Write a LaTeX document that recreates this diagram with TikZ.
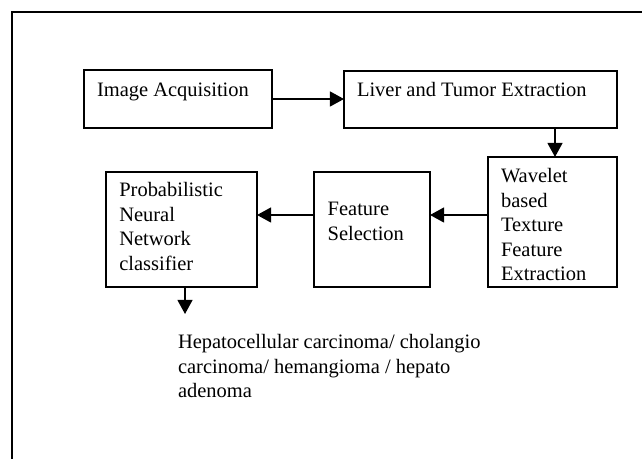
\documentclass[tikz,border=0pt]{standalone}
\usepackage{fontspec}
\setmainfont{Liberation Serif}
\usetikzlibrary{arrows.meta}

% one drawing unit = one pixel of the 642 x 459 layout
\newcommand\pxu{0.5634pt}

\tikzset{
  stagebox/.style={draw=black, line width=0.75pt, inner sep=0pt, outer sep=0pt},
  stagetext/.style={anchor=base west, inner sep=0pt, outer sep=0pt,
    font=\fontsize{11.54}{13.8}\selectfont},
  flow/.style={line width=0.85pt, -{Triangle[length=7.9pt,width=8.4pt]}},
  frameline/.style={line width=1.3pt},
}

\newcommand\lines[1]{\begin{tabular}[t]{@{}l@{}}#1\end{tabular}}

\begin{document}
\begin{tikzpicture}[x=\pxu, y=-\pxu]
  \useasboundingbox (0,0) rectangle (642,459);

  % open outer frame
  \draw[frameline] (12,459) -- (12,12) -- (642,12);

  % stage boxes
  \node[stagebox, minimum width=188*\pxu, minimum height=58*\pxu]  (b1) at (178,99) {};
  \node[stagebox, minimum width=273*\pxu, minimum height=57*\pxu]  (b2) at (480.5,99.5) {};
  \node[stagebox, minimum width=129*\pxu, minimum height=130*\pxu] (b3) at (552.5,222) {};
  \node[stagebox, minimum width=116*\pxu, minimum height=115*\pxu] (b4) at (372,229.5) {};
  \node[stagebox, minimum width=151*\pxu, minimum height=115*\pxu] (b5) at (181.5,229.5) {};

  % box labels
  \node[stagetext] (t1) at (97,96.7)   {Image Acquisition};
  \node[stagetext] (t2) at (357,96.7)  {Liver and Tumor Extraction};
  \node[stagetext] (t3) at (501,182.7) {\lines{Wavelet\\based\\Texture\\Feature\\Extraction}};
  \node[stagetext] (t4) at (327.7,216) {\lines{Feature\\Selection}};
  \node[stagetext] (t5) at (119.3,196.7) {\lines{Probabilistic\\Neural\\Network\\classifier}};

  % result classes
  \node[stagetext] (out) at (178,349)
    {\lines{Hepatocellular carcinoma/ cholangio\\carcinoma/ hemangioma / hepato\\adenoma}};

  % helper coordinates for connector lines
  \coordinate (down2) at (555,0);
  \coordinate (row) at (0,215);
  \coordinate (end5) at (185,314);

  % connectors
  \draw[flow] (b1.east) -- (b1.east -| b2.west);
  \draw[flow] (b2.south -| down2) -- (b3.north -| down2);
  \draw[flow] (b3.west |- row) -- (b4.east |- row);
  \draw[flow] (b4.west |- row) -- (b5.east |- row);
  \draw[flow] (b5.south -| end5) -- (end5);
\end{tikzpicture}
\end{document}
